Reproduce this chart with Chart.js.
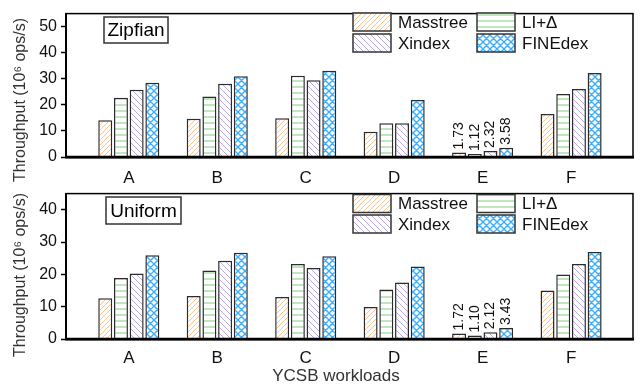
<!DOCTYPE html>
<html lang="en">
<head>
<meta charset="UTF-8">
<title>YCSB throughput</title>
<script src="https://cdn.jsdelivr.net/npm/chart.js"></script>
<style>
    body { margin: 0; background: #fff; }
    #wrap { position: relative; width: 644px; height: 388px; }
    #top { position: absolute; left: 0; top: 0; }
    #bottom { position: absolute; left: 0; top: 180px; }
</style>
</head>
<body>
<div id="wrap">
    <canvas id="top" width="644" height="184"></canvas>
    <canvas id="bottom" width="644" height="208"></canvas>
</div>
<script>
// data
const workloads = ['A', 'B', 'C', 'D', 'E', 'F'];
const seriesNames = ['Masstree', 'LI+Δ', 'Xindex', 'FINEdex'];

const zipfMasstree = [14.1, 14.7, 14.9, 9.7, 1.73, 16.5];
const zipfLI = [22.7, 23.2, 31.2, 12.9, 1.12, 24.2];
const zipfXindex = [25.8, 28.1, 29.4, 12.9, 2.32, 26.1];
const zipfFINEdex = [28.5, 31.0, 33.1, 21.9, 3.58, 32.2];

const uniMasstree = [12.6, 13.3, 13.0, 9.9, 1.72, 15.0];
const uniLI = [18.9, 21.2, 23.2, 15.3, 1.10, 20.0];
const uniXindex = [20.3, 24.2, 22.0, 17.5, 2.12, 23.2];
const uniFINEdex = [25.9, 26.7, 25.6, 22.4, 3.43, 26.9];

const zipfTicks = [0, 10, 20, 30, 40, 50];
const uniTicks = [0, 10, 20, 30, 40];

const FONT = '"Liberation Sans", Arial, sans-serif';

// fill patterns
function makePattern(kind, color, size, width) {
    const c = document.createElement('canvas');
    c.width = size; c.height = size;
    const g = c.getContext('2d');
    g.fillStyle = '#fff';
    g.fillRect(0, 0, size, size);
    g.strokeStyle = color;
    g.lineWidth = width;
    g.beginPath();
    if (kind === 'up' || kind === 'cross') {
        g.moveTo(0, size); g.lineTo(size, 0);
        g.moveTo(-1, 1); g.lineTo(1, -1);
        g.moveTo(size - 1, size + 1); g.lineTo(size + 1, size - 1);
    }
    if (kind === 'down' || kind === 'cross') {
        g.moveTo(0, 0); g.lineTo(size, size);
        g.moveTo(size - 1, -1); g.lineTo(size + 1, 1);
        g.moveTo(-1, size - 1); g.lineTo(1, size + 1);
    }
    if (kind === 'h') {
        g.moveTo(0, size / 2); g.lineTo(size, size / 2);
    }
    g.stroke();
    return g.createPattern(c, 'repeat');
}

const fills = [
    makePattern('up', '#ffc48c', 5, 1),
    makePattern('h', '#94d694', 6, 1.2),
    makePattern('down', '#b8a9dc', 6, 1),
    makePattern('cross', '#3aaeff', 7, 1.4)
];

function toPoints(values) {
    return values.map((v, i) => ({ x: i, y: v }));
}

// legend, frame, labels drawn on top of the chart
const extras = {
    id: 'extras',
    afterDraw(chart, args, opts) {
        const ctx = chart.ctx;
        const a = chart.chartArea;
        ctx.save();

        // frame
        ctx.strokeStyle = '#000';
        ctx.lineWidth = 1.5;
        ctx.strokeRect(a.left, a.top, a.right - a.left, a.bottom - a.top);
        ctx.lineWidth = 2.5;
        ctx.beginPath();
        ctx.moveTo(a.left - 1, a.bottom);
        ctx.lineTo(a.right + 1, a.bottom);
        ctx.stroke();

        // values above workload E
        ctx.fillStyle = '#111';
        ctx.font = '14px ' + FONT;
        ctx.textAlign = 'left';
        ctx.textBaseline = 'middle';
        chart.data.datasets.forEach((ds, di) => {
            const bar = chart.getDatasetMeta(di).data[4];
            ctx.save();
            ctx.translate(bar.x, bar.y - 3);
            ctx.rotate(-Math.PI / 2);
            ctx.fillText(ds.data[4].y.toFixed(2), 0, 0);
            ctx.restore();
        });

        // name box
        ctx.strokeStyle = '#333';
        ctx.lineWidth = 1.5;
        ctx.strokeRect(opts.box[0], opts.box[1], opts.box[2], opts.box[3]);
        ctx.font = '19px ' + FONT;
        ctx.textAlign = 'center';
        ctx.fillStyle = '#000';
        ctx.fillText(opts.name, opts.box[0] + opts.box[2] / 2, opts.box[1] + opts.box[3] / 2 + 1);

        // legend
        ctx.font = '17px ' + FONT;
        ctx.textAlign = 'left';
        const cols = [353, 477];
        chart.data.datasets.forEach((ds, di) => {
            const x = cols[di % 2];
            const y = opts.legendY[Math.floor(di / 2)];
            ctx.fillStyle = ds.backgroundColor;
            ctx.fillRect(x, y - 9, 38, 18);
            ctx.strokeStyle = '#333';
            ctx.lineWidth = 1.5;
            ctx.strokeRect(x, y - 9, 38, 18);
            ctx.fillStyle = '#111';
            ctx.fillText(ds.label, x + 45, y + 1);
        });

        // y title
        ctx.save();
        ctx.translate(21, opts.yTitleY);
        ctx.rotate(-Math.PI / 2);
        ctx.font = '16px ' + FONT;
        ctx.textAlign = 'center';
        ctx.fillStyle = '#333';
        ctx.fillText('Throughput (10⁶ ops/s)', 0, 0);
        ctx.restore();

        // x title
        if (opts.xTitle) {
            ctx.font = '17px ' + FONT;
            ctx.textAlign = 'center';
            ctx.fillStyle = '#333';
            ctx.fillText(opts.xTitle, 336, opts.xTitleY);
        }
        ctx.restore();
    }
};

function makeChart(id, values, yMax, yTicks, cfg) {
    const datasets = values.map((vals, i) => ({
        label: seriesNames[i],
        data: toPoints(vals),
        backgroundColor: fills[i],
        borderColor: '#2b2b2b',
        borderWidth: 1.5,
        categoryPercentage: 0.71,
        barPercentage: 0.89
    }));
    return new Chart(document.getElementById(id), {
        type: 'bar',
        data: { datasets: datasets },
        plugins: [extras],
        options: {
            responsive: false,
            animation: false,
            layout: { padding: { top: cfg.padTop, right: 11, left: 0, bottom: 0 } },
            plugins: {
                legend: { display: false },
                tooltip: { enabled: false },
                extras: cfg
            },
            scales: {
                x: {
                    type: 'linear',
                    offset: false,
                    min: -0.71,
                    max: 5.7,
                    afterBuildTicks: s => { s.ticks = workloads.map((w, i) => ({ value: i })); },
                    afterFit: s => { s.height = cfg.xHeight; },
                    grid: { display: false, drawTicks: false },
                    border: { display: true, color: '#000', width: 2.5 },
                    ticks: {
                        padding: cfg.xPad,
                        color: '#111',
                        font: { family: FONT, size: 17 },
                        maxRotation: 0,
                        callback: v => workloads[v]
                    }
                },
                y: {
                    min: 0,
                    max: yMax,
                    afterFit: s => { s.width = 66; },
                    afterBuildTicks: s => {
                        const t = [];
                        for (let v = 0; v < yMax; v += 5) t.push({ value: v });
                        s.ticks = t;
                    },
                    grid: { drawOnChartArea: false, drawTicks: true, tickLength: 5, tickColor: '#000', tickWidth: 1.5 },
                    border: { display: true, color: '#000', width: 2 },
                    ticks: {
                        padding: 4,
                        color: '#111',
                        font: { family: FONT, size: 16 },
                        callback: v => yTicks.includes(v) ? String(v) : ''
                    }
                }
            }
        }
    });
}

makeChart('top', [zipfMasstree, zipfLI, zipfXindex, zipfFINEdex], 55, zipfTicks, {
    padTop: 3, xHeight: 27, xPad: 11,
    name: 'Zipfian', box: [104, 17, 64, 26],
    legendY: [22, 43], yTitleY: 100
});

makeChart('bottom', [uniMasstree, uniLI, uniXindex, uniFINEdex], 45, uniTicks, {
    padTop: 4, xHeight: 49, xPad: 9.5,
    name: 'Uniform', box: [106, 17, 75, 27],
    legendY: [23.5, 44], yTitleY: 95,
    xTitle: 'YCSB workloads', xTitleY: 196
});
</script>
</body>
</html>
